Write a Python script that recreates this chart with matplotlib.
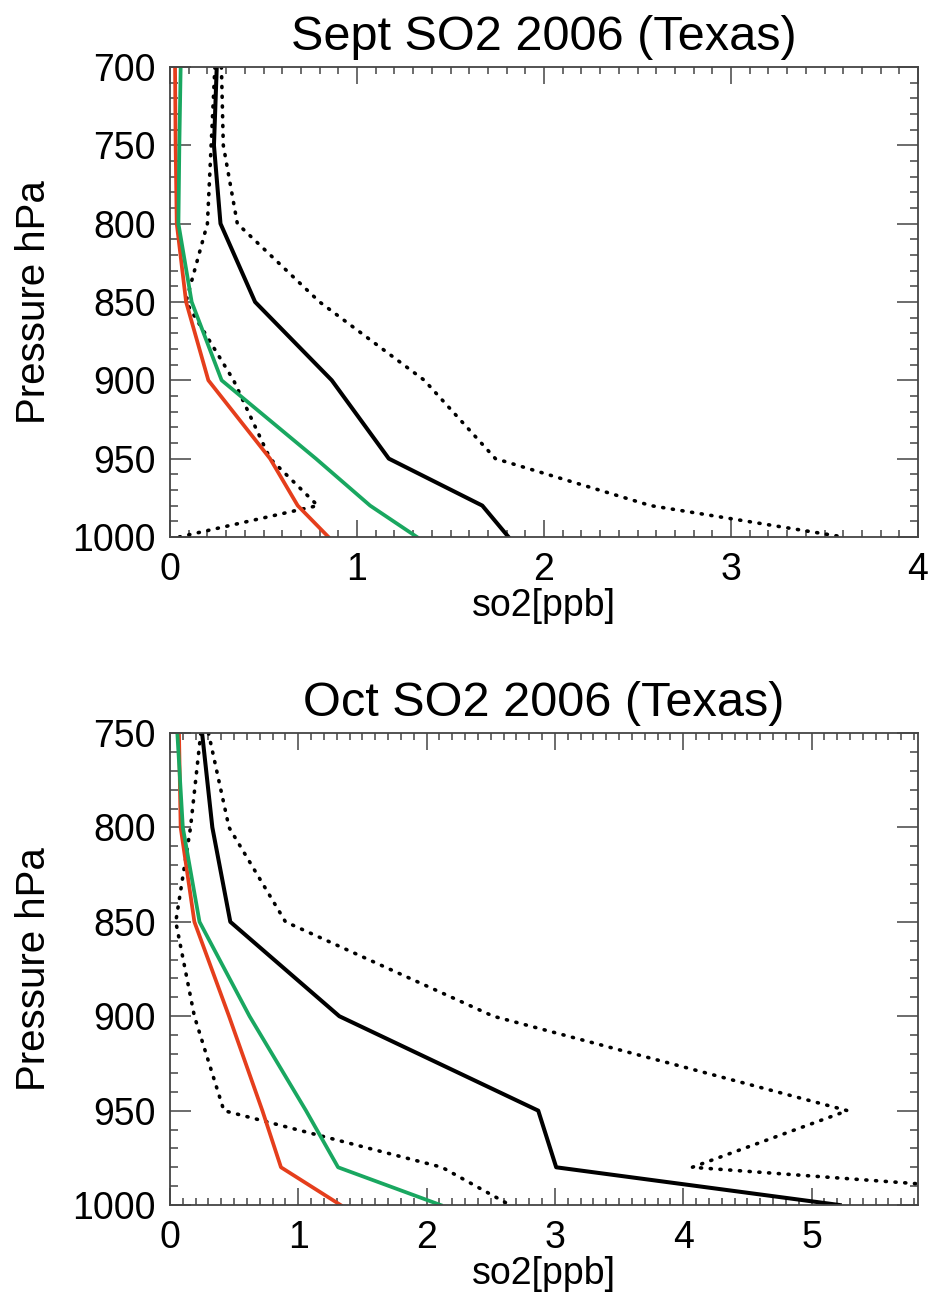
import matplotlib
matplotlib.use("Agg")
from matplotlib import pyplot as plt
from matplotlib.ticker import MultipleLocator

plt.rcParams['font.family'] = ['Liberation Sans', 'DejaVu Sans']

red = '#e53e1c'
green = '#19a760'

# pressure levels (hPa)
lev_sep = [700, 750, 800, 850, 900, 950, 980, 1000]
lev_oct = [750, 800, 850, 900, 950, 980, 1000]

# Sept profiles (so2 ppb)
sep_mean = [0.25, 0.235, 0.27, 0.455, 0.865, 1.17, 1.67, 1.81]
sep_hi = [0.275, 0.285, 0.36, 0.80, 1.36, 1.74, 2.57, 3.60]
sep_lo = [0.24, 0.22, 0.20, 0.085, 0.34, 0.535, 0.79, 0.05]
sep_green = [0.057, 0.05, 0.045, 0.116, 0.276, 0.78, 1.07, 1.32]
sep_red = [0.027, 0.03, 0.036, 0.086, 0.205, 0.535, 0.683, 0.847]

# Oct profiles (so2 ppb)
oct_mean = [0.25, 0.33, 0.47, 1.32, 2.87, 3.01, 5.22]
oct_hi = [0.30, 0.46, 0.90, 2.52, 5.28, 4.07, 8.1]
oct_lo = [0.24, 0.16, 0.045, 0.19, 0.42, 2.12, 2.65]
oct_green = [0.057, 0.10, 0.23, 0.62, 1.06, 1.31, 2.11]
oct_red = [0.07, 0.083, 0.19, 0.46, 0.72, 0.865, 1.33]

fig = plt.figure(figsize=(9.3, 13.08), dpi=100)
ax1 = fig.add_axes([0.1828, 0.5895, 0.8043, 0.3593])
ax2 = fig.add_axes([0.1828, 0.0787, 0.8043, 0.3609])

dot = (0, (0.3, 2.4))


def draw(ax, lev, mean, hi, lo, gr, rd, title, xmax, ytop):
    ax.plot(hi, lev, color='black', lw=2.6, ls=dot, dash_capstyle='round')
    ax.plot(lo, lev, color='black', lw=2.6, ls=dot, dash_capstyle='round')
    ax.plot(rd, lev, color=red, lw=2.7)
    ax.plot(gr, lev, color=green, lw=2.7)
    ax.plot(mean, lev, color='black', lw=2.9)
    ax.set_xlim(0, xmax)
    ax.set_ylim(1000, ytop)
    ax.xaxis.set_major_locator(MultipleLocator(1))
    ax.xaxis.set_minor_locator(MultipleLocator(0.1))
    ax.yaxis.set_major_locator(MultipleLocator(50))
    ax.yaxis.set_minor_locator(MultipleLocator(10))
    ax.tick_params(which='both', direction='in', top=True, right=True,
                   labelsize=27, color='#444444', width=1.1)
    ax.tick_params(axis='x', which='major', length=12, pad=11)
    ax.tick_params(axis='x', which='minor', length=5)
    ax.tick_params(axis='y', which='major', length=15, pad=10)
    ax.tick_params(axis='y', which='minor', length=6)
    for s in ax.spines.values():
        s.set_linewidth(1.3)
        s.set_color('#444444')
    ax.set_title(title, fontsize=35, pad=12)
    ax.set_xlabel('so2[ppb]', fontsize=27, labelpad=0)
    ax.set_ylabel('Pressure hPa', fontsize=29, labelpad=14)


draw(ax1, lev_sep, sep_mean, sep_hi, sep_lo, sep_green, sep_red,
     'Sept SO2 2006 (Texas)', 4, 700)
draw(ax2, lev_oct, oct_mean, oct_hi, oct_lo, oct_green, oct_red,
     'Oct SO2 2006 (Texas)', 5.83, 750)

fig.savefig('out.png', dpi=100)
